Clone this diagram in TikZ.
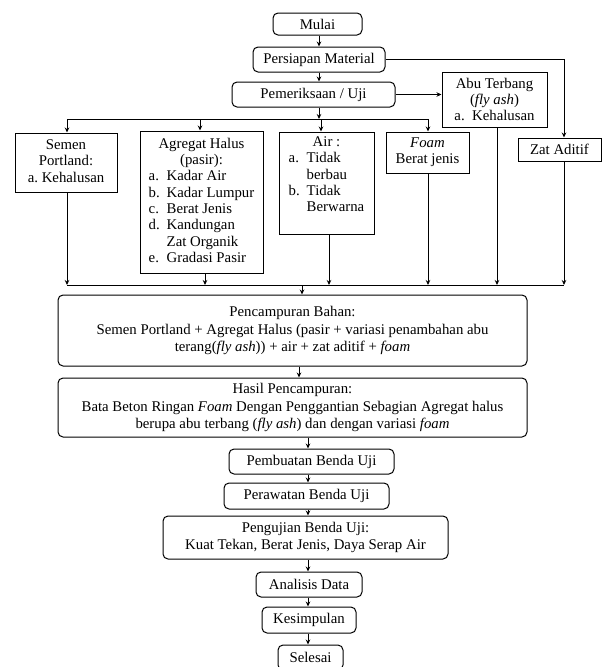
\documentclass[tikz,border=0pt]{standalone}
\usepackage{fontspec}
\setmainfont{Liberation Serif}
\usetikzlibrary{arrows.meta}
\begin{document}
\begin{tikzpicture}[x=1pt,y=-1pt,
  font=\fontsize{14.8}{16.3}\selectfont,
  box/.style={draw, line width=1pt, inner sep=0pt},
  rbox/.style={box, rounded corners=5pt, align=center},
  bigfont/.style={font=\fontsize{14.8}{17.5}\selectfont},
  conn/.style={line width=1pt},
  arr/.style={conn, -{Stealth[length=5pt,width=4.5pt]}},
]
\useasboundingbox (0,0) rectangle (605,667);

% top chain
\node[rbox, minimum width=89pt, minimum height=22pt] (mulai) at (317.5,24) {Mulai};
\node[rbox, minimum width=132pt, minimum height=25pt] (persiapan) at (319,59.5) {Persiapan Material};
\node[rbox, minimum width=163pt, minimum height=25pt] (periksa) at (313.5,94.5) {Pemeriksaan / Uji};
\node[box, align=center, minimum width=105pt, minimum height=55pt] (abu) at (494.5,99.5) {Abu Terbang\\(\textit{fly ash})\\a.\ \ Kehalusan};

% material boxes
\node[box, minimum width=102pt, minimum height=59pt] (semen) at (66,162.5)
  {\begin{tabular}{@{}p{14pt}@{}l@{}}\multicolumn{2}{c}{Semen}\\ \multicolumn{2}{c}{Portland:}\\ a. & Kehalusan\end{tabular}};
\node[box, minimum width=123pt, minimum height=142pt] (agregat) at (201.5,202)
  {\begin{tabular}{@{}p{18pt}@{}l@{}}\multicolumn{2}{c}{Agregat Halus}\\ \multicolumn{2}{c}{(pasir):}\\ a. & Kadar Air\\ b. & Kadar Lumpur\\ c. & Berat Jenis\\ d. & Kandungan\\ & Zat Organik\\ e. & Gradasi Pasir\end{tabular}};
\node[box, minimum width=95pt, minimum height=102pt] (air) at (326.5,183) {};
\node[inner sep=0pt] (airtxt) at (326.5,176)
  {\begin{tabular}{@{}p{18pt}@{}l@{}}\multicolumn{2}{c}{Air :}\\ a. & Tidak\\ & berbau\\ b. & Tidak\\ & Berwarna\end{tabular}};
\node[box, align=center, minimum width=83pt, minimum height=41pt] (foam) at (427.5,152.5) {\textit{Foam}\\Berat jenis};
\node[box, align=center, minimum width=83pt, minimum height=23pt] (zat) at (559.5,149.5) {Zat Aditif};

% lower chain
\node[rbox, bigfont, minimum width=469pt, minimum height=71pt] (campur) at (292.5,330.5)
  {Pencampuran Bahan:\\Semen Portland + Agregat Halus (pasir + variasi penambahan abu\\terang(\textit{fly ash})) + air + zat aditif + \textit{foam}};
\node[rbox, bigfont, minimum width=469pt, minimum height=59pt] (hasil) at (292.5,407.5)
  {Hasil Pencampuran:\\Bata Beton Ringan \textit{Foam} Dengan Penggantian Sebagian Agregat halus\\berupa abu terbang (\textit{fly ash}) dan dengan variasi \textit{foam}};
\node[rbox, minimum width=165pt, minimum height=25pt] (buat) at (311.5,461.5) {Pembuatan Benda Uji};
\node[rbox, minimum width=165pt, minimum height=26pt] (rawat) at (306.5,496) {Perawatan Benda Uji};
\node[rbox, bigfont, minimum width=285pt, minimum height=43pt] (uji) at (305.5,537.5) {Pengujian Benda Uji:\\Kuat Tekan, Berat Jenis, Daya Serap Air};
\node[rbox, minimum width=106pt, minimum height=25pt] (analisis) at (309,584.5) {Analisis Data};
\node[rbox, minimum width=94pt, minimum height=26pt] (simpul) at (309,620) {Kesimpulan};
\node[rbox, minimum width=65pt, minimum height=25pt] (selesai) at (310.5,657.5) {Selesai};

% junction coordinates
\coordinate (dL) at (67,119);
\coordinate (dA) at (200,119);
\coordinate (dM) at (319,119);
\coordinate (dW) at (321,119);
\coordinate (dR) at (428,119);
\coordinate (cL) at (67,285);
\coordinate (cA) at (205,285);
\coordinate (cW) at (329,285);
\coordinate (cF) at (428,285);
\coordinate (cB) at (497,285);
\coordinate (cR) at (564,285);
\coordinate (cM) at (302,285);
\coordinate (k1) at (299,0);
\coordinate (k2) at (308,0);

% top connectors
\draw[arr] (mulai.south -| persiapan.north) -- (persiapan.north);
\draw[arr] (persiapan.south) -- (periksa.north -| persiapan.south);
\draw[arr] (persiapan.east) -| (zat.north -| cR);
\draw[arr] (periksa.east) -- (abu.west |- periksa.east);
\draw[arr] (periksa.south -| dM) -- (dM);
\draw[conn] (dL) -- (dR);
\draw[arr] (dL) -- (semen.north -| dL);
\draw[arr] (dA) -- (agregat.north -| dA);
\draw[arr] (dW) -- (air.north -| dW);
\draw[arr] (dR) -- (foam.north -| dR);

% collection
\draw[arr] (semen.south -| cL) -- (cL);
\draw[arr] (agregat.south -| cA) -- (cA);
\draw[arr] (air.south -| cW) -- (cW);
\draw[arr] (foam.south -| cF) -- (cF);
\draw[arr] (abu.south -| cB) -- (cB);
\draw[arr] (zat.south -| cR) -- (cR);
\draw[conn] (cL) -- (cR);
\draw[arr] (cM) -- (campur.north -| cM);

% lower connectors
\draw[arr] (campur.south -| k1) -- (hasil.north -| k1);
\draw[arr] (hasil.south -| k2) -- (buat.north -| k2);
\draw[arr] (buat.south -| k2) -- (rawat.north -| k2);
\draw[arr] (rawat.south -| k2) -- (uji.north -| k2);
\draw[arr] (uji.south -| k2) -- (analisis.north -| k2);
\draw[arr] (analisis.south -| k2) -- (simpul.north -| k2);
\draw[arr] (simpul.south -| k2) -- (selesai.north -| k2);
\end{tikzpicture}
\end{document}
